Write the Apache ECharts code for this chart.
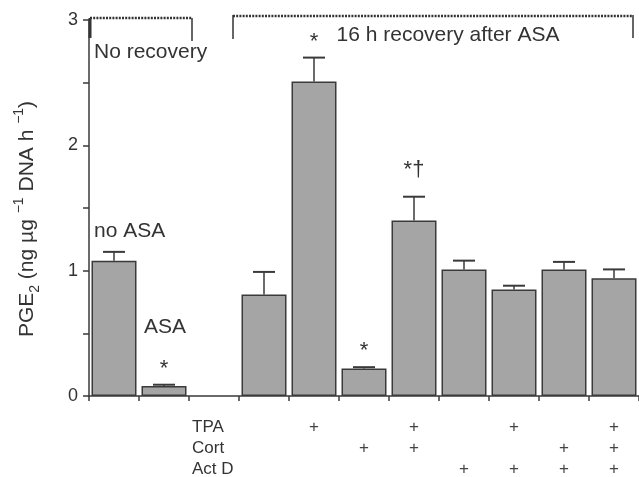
<!DOCTYPE html>
<html><head><meta charset="utf-8">
<script src="https://cdn.jsdelivr.net/npm/echarts@6/dist/echarts.min.js"></script>
<style>html,body{margin:0;padding:0;background:#fff}#c{width:639px;height:477px}</style>
</head><body><div id="c"></div>
<script>
// ---- data ----
var categories = ['noASA','ASA','gap','ctrl','TPA','Cort','TPA+Cort','ActD','TPA+ActD','Cort+ActD','TPA+Cort+ActD'];
var values     = [1.08, 0.08, null, 0.81, 2.51, 0.22, 1.40, 1.01, 0.85, 1.01, 0.94];
var errTop     = [1.15, 0.09, null, 0.99, 2.70, 0.23, 1.59, 1.08, 0.88, 1.07, 1.01];
var marks      = ['', '*', '', '', '*', '*', '*\u2020', '', '', '', ''];
var groupLabels= ['no ASA', 'ASA', '', '', '', '', '', '', '', '', ''];
var tpa        = [0,0,0,0,1,0,1,0,1,0,1];
var cort       = [0,0,0,0,0,1,1,0,0,1,1];
var actD       = [0,0,0,0,0,0,0,1,1,1,1];
var rowHeaders = ['TPA', 'Cort', 'Act D'];
var yTicks     = [0, 1, 2, 3];
var FONT = 'Liberation Sans, Arial, Helvetica, sans-serif';

var chart = echarts.init(document.getElementById('c'));
var errData = values.map(function(v, i){ return v == null ? null : [i, v, errTop[i], marks[i], groupLabels[i]]; }).filter(Boolean);

var option = {
  animation: false,
  grid: {left: 89, right: 0, top: 20, bottom: 81, containLabel: false, outerBoundsMode: 'none'},
  xAxis: {
    type: 'category', data: categories,
    axisLine: {lineStyle: {color: '#3a3a3a', width: 1.5}},
    axisTick: {show: true, length: 5, lineStyle: {color: '#3a3a3a', width: 1.5}},
    axisLabel: {
      interval: 0, margin: 21, color: '#333', fontFamily: FONT,
      formatter: function(v, i){
        if (i === 2) return rowHeaders.map(function(h){ return '{h|' + h + '}'; }).join('\n');
        return [tpa[i], cort[i], actD[i]].map(function(f){ return f ? '{p|+}' : '{p| }'; }).join('\n');
      },
      rich: {
        h: {fontSize: 17, lineHeight: 21, width: 44, align: 'left', color: '#333', fontFamily: FONT},
        p: {fontSize: 17, lineHeight: 21, color: '#444', fontFamily: FONT}
      }
    }
  },
  yAxis: {
    type: 'value', min: 0, max: 3, interval: 0.5,
    splitLine: {show: false},
    axisLine: {show: true, lineStyle: {color: '#3a3a3a', width: 1.5}},
    axisTick: {show: true, length: 6, lineStyle: {color: '#3a3a3a', width: 1.5}},
    axisLabel: {
      margin: 11, fontSize: 18, color: '#333', fontFamily: FONT,
      formatter: function(v){ return yTicks.indexOf(v) >= 0 ? String(v) : ''; }
    },
    name: '{n|PGE}{sub|2}{n| (ng \u00b5g }{sup|\u22121}{n| DNA h }{sup|\u22121}{n|)}',
    nameLocation: 'middle', nameRotate: 90, nameGap: 47,
    nameTextStyle: {
      padding: [0, 22, 0, 0],
      rich: {
        n: {fontSize: 21, lineHeight: 30, color: '#333', fontFamily: FONT},
        sub: {fontSize: 14, lineHeight: 13, verticalAlign: 'bottom', color: '#333', fontFamily: FONT},
        sup: {fontSize: 14, lineHeight: 14, verticalAlign: 'top', color: '#333', fontFamily: FONT}
      }
    }
  },
  series: [
    {
      type: 'bar', data: values, barWidth: 45,
      itemStyle: {color: '#a5a5a5', borderColor: '#3a3a3a', borderWidth: 1.5}
    },
    {
      type: 'custom', data: errData, clip: false, z: 5,
      renderItem: function(params, api){
        var i = api.value(0);
        var base = api.coord([i, api.value(1)]);
        var top = api.coord([i, api.value(2)]);
        var mark = marks[i], grp = groupLabels[i];
        var children = [
          {type: 'line', shape: {x1: base[0], y1: base[1], x2: top[0], y2: top[1]}, style: {stroke: '#3a3a3a', lineWidth: 1.5}},
          {type: 'line', shape: {x1: top[0] - 11, y1: top[1], x2: top[0] + 11, y2: top[1]}, style: {stroke: '#3a3a3a', lineWidth: 2}}
        ];
        if (mark) {
          var off = mark.length > 1 ? 27 : 16;
          children.push({type: 'text', style: {text: mark, x: top[0], y: top[1] - off, align: 'center', verticalAlign: 'middle', fontSize: 22, fill: '#333', fontFamily: FONT}});
        }
        if (grp) {
          var goff = mark ? 58 : 21;
          children.push({type: 'text', style: {text: grp, x: top[0] - 20, y: top[1] - goff, align: 'left', verticalAlign: 'middle', fontSize: 21, fill: '#333', fontFamily: FONT}});
        }
        return {type: 'group', children: children};
      }
    }
  ]
};
chart.setOption(option);

// bracket annotations positioned from the axes
function cx(i){ return chart.convertToPixel({xAxisIndex: 0}, i); }
var y3 = chart.convertToPixel({yAxisIndex: 0}, 3);
var axisX = cx(0) - 25;
var lx1 = axisX + 1, lx2 = cx(1) + 28;
var rx1 = cx(3) - 31, rx2 = cx(10) + 19;
var dotted = {stroke: '#333', lineWidth: 2.5, lineDash: [2, 1.2]};
var solid = {stroke: '#333', lineWidth: 1.5};
chart.setOption({
  graphic: [
    {type: 'line', shape: {x1: lx1, y1: y3 - 2, x2: lx2, y2: y3 - 2}, style: dotted},
    {type: 'line', shape: {x1: axisX + 1, y1: y3 - 2, x2: axisX + 1, y2: y3 + 18}, style: {stroke: '#333', lineWidth: 3}},
    {type: 'line', shape: {x1: lx2, y1: y3 - 2, x2: lx2, y2: y3 + 21}, style: solid},
    {type: 'text', style: {text: 'No recovery', x: axisX + 5, y: y3 + 32, verticalAlign: 'middle', fontSize: 21, fill: '#333', fontFamily: FONT}},
    {type: 'line', shape: {x1: rx1, y1: y3 - 4, x2: rx2, y2: y3 - 4}, style: dotted},
    {type: 'line', shape: {x1: rx1, y1: y3 - 5, x2: rx1, y2: y3 + 19}, style: solid},
    {type: 'line', shape: {x1: rx2, y1: y3 - 5, x2: rx2, y2: y3 + 18}, style: solid},
    {type: 'text', style: {text: '16 h recovery after ASA', x: (cx(6) + cx(7)) / 2 + 9, y: y3 + 15, align: 'center', verticalAlign: 'middle', fontSize: 21, fill: '#333', fontFamily: FONT}}
  ]
});
</script>
</body></html>
